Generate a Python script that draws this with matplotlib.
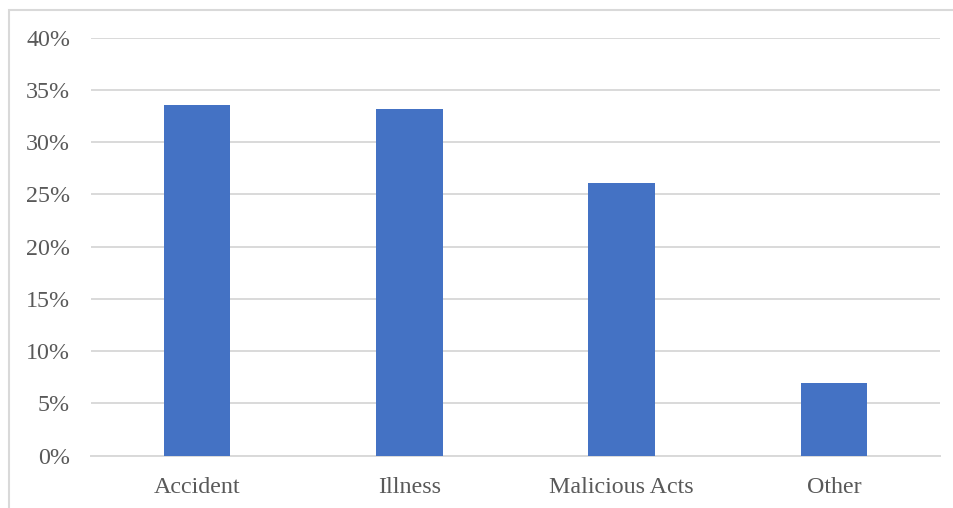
import matplotlib.pyplot as plt
from matplotlib.patches import Rectangle
from matplotlib.ticker import FuncFormatter

categories = ["Accident", "Illness", "Malicious Acts", "Other"]
shares = [33.6, 33.2, 26.1, 7.0]
yticks = [0, 5, 10, 15, 20, 25, 30, 35, 40]

plt.rcParams["font.family"] = ["Liberation Serif", "DejaVu Serif"]
text_color = "#595959"
grid_color = "#D9D9D9"

fig = plt.figure(figsize=(9.54, 5.08), dpi=100)
ax = fig.add_axes([0.0954, 0.1030, 0.8899, 0.8228])

x = list(range(len(categories)))
ax.bar(x, shares, width=0.314, color="#4472C4", zorder=3)

ax.set_xlim(-0.5, len(categories) - 0.5)
ax.set_ylim(0, 40)
ax.set_yticks(yticks)
ax.yaxis.set_major_formatter(FuncFormatter(lambda v, _: f"{v:.0f}%"))
ax.set_xticks(x)
ax.set_xticklabels(categories)

ax.grid(axis="y", color=grid_color, linewidth=1.4, zorder=0)
ax.tick_params(axis="both", length=0, labelsize=17.3, colors=text_color)
ax.tick_params(axis="y", pad=15)
ax.tick_params(axis="x", pad=15)
for side in ["top", "right", "left"]:
    ax.spines[side].set_visible(False)
ax.spines["bottom"].set_color(grid_color)
ax.spines["bottom"].set_linewidth(1.4)

# chart frame, only the top and left edges fall inside the image
W, H = 954, 508
fig.patches.append(Rectangle((9.5 / W, -0.5), 2, 1.5 - 9.5 / H,
                             transform=fig.transFigure, fill=False,
                             edgecolor=grid_color, linewidth=1.5))

fig.savefig("out.png", dpi=100)
